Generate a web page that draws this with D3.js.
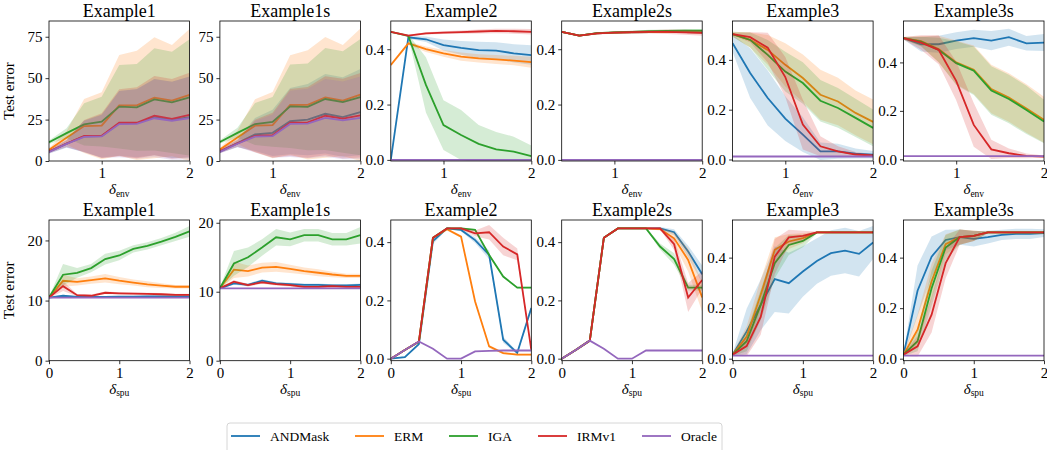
<!DOCTYPE html>
<html>
<head>
<meta charset="utf-8">
<script src="https://cdn.jsdelivr.net/npm/d3@7"></script>
<style>
body { margin: 0; background: #fff; }
svg text { font-family: 'Liberation Serif', serif !important; }
</style>
</head>
<body>
<div id="chart"></div>
<script>
var xEnv = [0.4, 0.6, 0.8, 1.0, 1.2, 1.4, 1.6, 1.8, 2.0];
var xSpu = [0, 0.2, 0.4, 0.6, 0.8, 1.0, 1.2, 1.4, 1.6, 1.8, 2.0];
var methods = ["ANDMask", "ERM", "IGA", "IRMv1", "Oracle"];
var colors = ["#1f77b4", "#ff7f0e", "#2ca02c", "#d62728", "#9467bd"];
var titles = ["Example1", "Example1s", "Example2", "Example2s", "Example3", "Example3s"];

// rows: ANDMask, ERM, IGA, IRMv1, Oracle
var env1Mean = [
  [5.6, 10.5, 14.9, 15.1, 22.7, 22.8, 26.5, 24.8, 26.5],
  [6.8, 14, 21.1, 21.3, 33.6, 33.6, 38.2, 36.4, 39.9],
  [11.3, 16.8, 22.1, 23.8, 32.8, 32.4, 37.2, 35.4, 38.4],
  [5.8, 10.5, 15.1, 15.3, 23.1, 23.1, 27.4, 25.4, 27.8],
  [5.4, 10.3, 14.6, 14.8, 22.3, 22.4, 25.8, 24.3, 25.9]];
var env1Sd = [
  [1, 2.5, 9.5, 13, 19.5, 20.5, 23, 23, 24.5],
  [1, 4, 16.3, 20.2, 30.4, 33, 36.5, 33.6, 39.8],
  [1, 3, 12.7, 15, 25.2, 26.2, 30.8, 30.6, 35.1],
  [1, 2, 9.7, 13.5, 20.2, 21.4, 23.9, 24.1, 25.5],
  [1, 2, 9.5, 13, 20, 21, 23.5, 23.5, 25]];
var env1sMean = [
  [5.8, 10.8, 16, 17, 24, 25, 28.5, 26.5, 29.5],
  [6.9, 14.2, 21.3, 21.6, 33.8, 33.9, 38.4, 36.5, 40],
  [11.5, 17, 22.3, 23.6, 33, 32.7, 37.4, 35.6, 38.6],
  [5.9, 10.6, 15.2, 15.6, 23.2, 23.3, 27.3, 25.6, 27.6],
  [5.5, 10.4, 14.7, 15, 22.4, 22.6, 26, 24.5, 26]];
var env1sSd = [
  [1, 2.5, 10, 14, 20, 21.5, 24, 24, 26],
  [1, 4, 16, 20, 30, 33, 36.5, 33.5, 40],
  [1, 3, 12.7, 15, 25.2, 26.2, 30.8, 30.6, 35.1],
  [1, 2, 9.7, 13.5, 20.2, 21.4, 23.9, 24.1, 25.5],
  [1, 2, 9.5, 13, 20, 21, 23.5, 23.5, 25]];
var env2Mean = [
  [0.0, 0.443, 0.436, 0.415, 0.405, 0.397, 0.395, 0.385, 0.379],
  [0.343, 0.421, 0.4, 0.385, 0.373, 0.367, 0.363, 0.359, 0.353],
  [0.463, 0.448, 0.271, 0.126, 0.09, 0.058, 0.038, 0.03, 0.014],
  [0.463, 0.449, 0.457, 0.46, 0.462, 0.464, 0.466, 0.465, 0.463],
  [0, 0, 0, 0, 0, 0, 0, 0, 0]];
var env2Sd = [
  [0, 0.005, 0.01, 0.02, 0.025, 0.03, 0.03, 0.033, 0.035],
  [0.005, 0.006, 0.01, 0.012, 0.015, 0.015, 0.016, 0.017, 0.02],
  [0.003, 0.005, 0.1, 0.09, 0.09, 0.068, 0.063, 0.054, 0.038],
  [0.003, 0.003, 0.004, 0.005, 0.006, 0.007, 0.008, 0.009, 0.01],
  [0, 0, 0, 0, 0, 0, 0, 0, 0]];
var env2sMean = [
  [0.463, 0.449, 0.457, 0.46, 0.461, 0.462, 0.462, 0.462, 0.461],
  [0.463, 0.449, 0.457, 0.46, 0.461, 0.462, 0.462, 0.462, 0.461],
  [0.463, 0.449, 0.458, 0.461, 0.463, 0.465, 0.466, 0.467, 0.467],
  [0.463, 0.449, 0.457, 0.46, 0.462, 0.463, 0.463, 0.461, 0.459],
  [0, 0, 0, 0, 0, 0, 0, 0, 0]];
var env2sSd = [
  [0.003, 0.003, 0.003, 0.003, 0.003, 0.003, 0.003, 0.003, 0.003],
  [0.003, 0.003, 0.003, 0.003, 0.003, 0.003, 0.003, 0.003, 0.003],
  [0.003, 0.003, 0.003, 0.004, 0.004, 0.005, 0.005, 0.006, 0.006],
  [0.003, 0.003, 0.004, 0.004, 0.005, 0.006, 0.008, 0.009, 0.01],
  [0, 0, 0, 0, 0, 0, 0, 0, 0]];
var env3Mean = [
  [0.467, 0.347, 0.247, 0.164, 0.1, 0.033, 0.033, 0.024, 0.019],
  [0.503, 0.48, 0.44, 0.38, 0.327, 0.26, 0.233, 0.187, 0.151],
  [0.503, 0.48, 0.42, 0.353, 0.307, 0.236, 0.207, 0.167, 0.127],
  [0.503, 0.491, 0.449, 0.331, 0.14, 0.053, 0.033, 0.02, 0.016],
  [0.012, 0.012, 0.012, 0.012, 0.012, 0.012, 0.012, 0.012, 0.012]];
var env3Sd = [
  [0.035, 0.1, 0.11, 0.09, 0.07, 0.035, 0.03, 0.02, 0.015],
  [0.01, 0.03, 0.06, 0.087, 0.095, 0.1, 0.095, 0.09, 0.09],
  [0.01, 0.03, 0.06, 0.08, 0.083, 0.083, 0.08, 0.077, 0.074],
  [0.005, 0.02, 0.06, 0.08, 0.1, 0.04, 0.02, 0.01, 0.005],
  [0, 0, 0, 0, 0, 0, 0, 0, 0]];
var env3sMean = [
  [0.5, 0.475, 0.475, 0.49, 0.5, 0.49, 0.504, 0.479, 0.482],
  [0.5, 0.488, 0.455, 0.4, 0.37, 0.29, 0.255, 0.21, 0.163],
  [0.5, 0.486, 0.452, 0.397, 0.366, 0.284, 0.249, 0.204, 0.156],
  [0.5, 0.482, 0.452, 0.324, 0.142, 0.041, 0.025, 0.014, 0.011],
  [0.013, 0.013, 0.013, 0.013, 0.013, 0.013, 0.013, 0.013, 0.013]];
var env3sSd = [
  [0.005, 0.03, 0.035, 0.035, 0.035, 0.04, 0.035, 0.03, 0.035],
  [0.005, 0.02, 0.055, 0.09, 0.1, 0.1, 0.1, 0.1, 0.095],
  [0.005, 0.02, 0.05, 0.09, 0.1, 0.1, 0.1, 0.1, 0.09],
  [0.005, 0.03, 0.06, 0.08, 0.09, 0.04, 0.02, 0.01, 0.005],
  [0, 0, 0, 0, 0, 0, 0, 0, 0]];

var spu1Mean = [
  [10.5, 10.8, 10.6, 10.6, 10.6, 10.65, 10.65, 10.7, 10.7, 10.7, 10.7],
  [10.5, 13.3, 13.1, 13.4, 13.7, 13.3, 13.0, 12.7, 12.5, 12.3, 12.3],
  [10.5, 14.3, 14.6, 15.4, 16.9, 17.5, 18.6, 19.1, 19.8, 20.6, 21.5],
  [10.5, 12.4, 10.9, 10.8, 11.3, 11.2, 11.15, 11.1, 11.05, 10.95, 10.95],
  [10.5, 10.5, 10.5, 10.5, 10.5, 10.5, 10.5, 10.5, 10.5, 10.5, 10.5]];
var spu1Sd = [
  [0.1, 0.15, 0.15, 0.15, 0.15, 0.15, 0.15, 0.15, 0.15, 0.15, 0.15],
  [0.1, 1, 0.6, 0.6, 0.7, 0.6, 0.5, 0.5, 0.4, 0.3, 0.3],
  [0.1, 1.8, 0.8, 0.7, 0.9, 0.8, 0.6, 0.6, 0.6, 0.7, 0.9],
  [0.1, 0.8, 0.2, 0.2, 0.2, 0.2, 0.2, 0.2, 0.2, 0.2, 0.2],
  [0, 0, 0, 0, 0, 0, 0, 0, 0, 0, 0]];
var spu1sMean = [
  [10.5, 11.2, 11.0, 11.6, 11.2, 11.1, 11.0, 11.0, 10.9, 10.9, 11.0],
  [10.5, 13.2, 13.0, 13.5, 13.6, 13.3, 13.0, 12.75, 12.5, 12.3, 12.3],
  [10.5, 14.1, 15.0, 16.4, 17.9, 17.6, 18.2, 18.2, 17.6, 17.6, 18.2],
  [10.5, 11.45, 10.97, 11.35, 11.1, 10.97, 10.7, 10.7, 10.8, 10.7, 10.7],
  [10.5, 10.5, 10.5, 10.5, 10.5, 10.5, 10.5, 10.5, 10.5, 10.5, 10.5]];
var spu1sSd = [
  [0.1, 0.2, 0.2, 0.2, 0.2, 0.2, 0.2, 0.2, 0.2, 0.2, 0.2],
  [0.1, 1.2, 0.8, 0.7, 0.7, 0.6, 0.5, 0.5, 0.4, 0.3, 0.3],
  [0.1, 1.8, 1.4, 1.2, 1.2, 1, 0.9, 0.9, 0.9, 0.9, 1.2],
  [0.1, 0.2, 0.2, 0.2, 0.2, 0.2, 0.2, 0.2, 0.2, 0.2, 0.2],
  [0, 0, 0, 0, 0, 0, 0, 0, 0, 0, 0]];
var spu2Mean = [
  [0, 0.005, 0.05, 0.404, 0.447, 0.442, 0.407, 0.356, 0.065, 0.02, 0.174],
  [0, 0.03, 0.058, 0.415, 0.444, 0.419, 0.196, 0.042, 0.019, 0.014, 0.014],
  [0, 0.03, 0.058, 0.415, 0.447, 0.447, 0.442, 0.356, 0.282, 0.244, 0.244],
  [0, 0.03, 0.059, 0.415, 0.447, 0.447, 0.43, 0.434, 0.385, 0.358, 0.03],
  [0, 0.03, 0.059, 0.034, 0, 0, 0.025, 0.027, 0.028, 0.028, 0.028]];
var spu2Sd = [
  [0, 0.003, 0.005, 0.01, 0.003, 0.005, 0.01, 0.015, 0.01, 0.005, 0.01],
  [0, 0.003, 0.003, 0.004, 0.004, 0.005, 0.005, 0.005, 0.004, 0.003, 0.003],
  [0, 0.003, 0.003, 0.003, 0.003, 0.003, 0.003, 0.003, 0.003, 0.003, 0.003],
  [0, 0.002, 0.003, 0.003, 0.003, 0.003, 0.01, 0.025, 0.03, 0.02, 0.005],
  [0, 0, 0, 0, 0, 0, 0, 0, 0, 0, 0]];
var spu2sMean = [
  [0, 0.03, 0.062, 0.415, 0.447, 0.447, 0.447, 0.447, 0.434, 0.368, 0.29],
  [0, 0.03, 0.062, 0.415, 0.447, 0.447, 0.447, 0.445, 0.413, 0.339, 0.21],
  [0, 0.03, 0.062, 0.415, 0.447, 0.447, 0.447, 0.385, 0.342, 0.244, 0.244],
  [0, 0.03, 0.062, 0.415, 0.447, 0.447, 0.447, 0.447, 0.393, 0.21, 0.27],
  [0, 0.03, 0.062, 0.034, 0, 0, 0.028, 0.028, 0.028, 0.028, 0.028]];
var spu2sSd = [
  [0, 0.002, 0.002, 0.002, 0.002, 0.002, 0.002, 0.005, 0.01, 0.02, 0.03],
  [0, 0.002, 0.002, 0.002, 0.002, 0.002, 0.002, 0.005, 0.02, 0.04, 0.05],
  [0, 0.002, 0.002, 0.002, 0.002, 0.002, 0.002, 0.01, 0.02, 0.01, 0.01],
  [0, 0.002, 0.002, 0.002, 0.002, 0.002, 0.002, 0.003, 0.02, 0.05, 0.03],
  [0, 0, 0, 0, 0, 0, 0, 0, 0, 0, 0]];
var spu3Mean = [
  [0.016, 0.108, 0.213, 0.315, 0.299, 0.345, 0.387, 0.418, 0.428, 0.415, 0.46],
  [0.016, 0.088, 0.253, 0.431, 0.464, 0.477, 0.5, 0.5, 0.5, 0.5, 0.5],
  [0.016, 0.069, 0.213, 0.378, 0.45, 0.466, 0.5, 0.5, 0.5, 0.5, 0.5],
  [0.016, 0.05, 0.165, 0.404, 0.48, 0.486, 0.5, 0.5, 0.5, 0.5, 0.5],
  [0.012, 0.012, 0.012, 0.012, 0.012, 0.012, 0.012, 0.012, 0.012, 0.012, 0.012]];
var spu3Sd = [
  [0.005, 0.09, 0.1, 0.13, 0.12, 0.1, 0.09, 0.09, 0.09, 0.09, 0.065],
  [0.005, 0.04, 0.06, 0.05, 0.03, 0.02, 0.003, 0.003, 0.003, 0.003, 0.003],
  [0.005, 0.04, 0.06, 0.06, 0.04, 0.025, 0.003, 0.003, 0.003, 0.003, 0.003],
  [0.005, 0.04, 0.07, 0.07, 0.03, 0.02, 0.003, 0.003, 0.003, 0.003, 0.003],
  [0, 0, 0, 0, 0, 0, 0, 0, 0, 0, 0]];
var spu3sMean = [
  [0.016, 0.269, 0.404, 0.47, 0.481, 0.474, 0.481, 0.49, 0.494, 0.494, 0.497],
  [0.016, 0.115, 0.306, 0.453, 0.481, 0.486, 0.5, 0.5, 0.5, 0.5, 0.5],
  [0.016, 0.069, 0.279, 0.44, 0.481, 0.486, 0.5, 0.5, 0.5, 0.5, 0.5],
  [0.016, 0.049, 0.174, 0.378, 0.481, 0.486, 0.5, 0.5, 0.5, 0.5, 0.5],
  [0.012, 0.012, 0.012, 0.012, 0.012, 0.012, 0.012, 0.012, 0.012, 0.012, 0.012]];
var spu3sSd = [
  [0.005, 0.1, 0.08, 0.04, 0.03, 0.03, 0.025, 0.02, 0.02, 0.02, 0.015],
  [0.005, 0.06, 0.07, 0.04, 0.03, 0.02, 0.003, 0.003, 0.003, 0.003, 0.003],
  [0.005, 0.04, 0.07, 0.05, 0.03, 0.02, 0.003, 0.003, 0.003, 0.003, 0.003],
  [0.005, 0.04, 0.07, 0.06, 0.03, 0.02, 0.003, 0.003, 0.003, 0.003, 0.003],
  [0, 0, 0, 0, 0, 0, 0, 0, 0, 0, 0]];

var envYDomain = [[0, 84.5], [0, 84.5], [-0.004, 0.502], [-0.004, 0.502], [-0.006, 0.556], [-0.007, 0.571]];
var spuYDomain = [[0, 23.4], [0, 20.4], [-0.007, 0.476], [-0.007, 0.476], [-0.008, 0.549], [-0.008, 0.549]];
var envYTicks = [[0, 25, 50, 75], [0, 25, 50, 75], [0, 0.2, 0.4], [0, 0.2, 0.4], [0, 0.2, 0.4], [0, 0.2, 0.4]];
var spuYTicks = [[0, 10, 20], [0, 10, 20], [0, 0.2, 0.4], [0, 0.2, 0.4], [0, 0.2, 0.4], [0, 0.2, 0.4]];

var envMeans = [env1Mean, env1sMean, env2Mean, env2sMean, env3Mean, env3sMean];
var envSds = [env1Sd, env1sSd, env2Sd, env2sSd, env3Sd, env3sSd];
var spuMeans = [spu1Mean, spu1sMean, spu2Mean, spu2sMean, spu3Mean, spu3sMean];
var spuSds = [spu1Sd, spu1sSd, spu2Sd, spu2sSd, spu3Sd, spu3sSd];

var w = 1047, h = 450;
var pw = 140.5;
var serif = "'Liberation Serif', serif";
var svg = d3.select("#chart").append("svg").attr("width", w).attr("height", h)
  .style("font-family", serif);

function panel(id, left, top, bottom, xs, xdom, xticks, ydom, yticks, means, sds, title, sub, showYLabel) {
  var xscale = d3.scaleLinear().domain(xdom).range([left, left + pw]);
  var yscale = d3.scaleLinear().domain(ydom).range([bottom, top]);
  var g = svg.append("g");

  g.append("clipPath").attr("id", id).append("rect")
    .attr("x", left).attr("y", top).attr("width", pw).attr("height", bottom - top);

  var plot = g.append("g").attr("clip-path", "url(#" + id + ")");

  var area = d3.area()
    .x(function (d) { return xscale(d.x); })
    .y0(function (d) { return yscale(d.m - d.s); })
    .y1(function (d) { return yscale(d.m + d.s); });
  var line = d3.line()
    .x(function (d) { return xscale(d.x); })
    .y(function (d) { return yscale(d.m); });

  methods.forEach(function (m, k) {
    var pts = xs.map(function (x, i) { return { x: x, m: means[k][i], s: sds[k][i] }; });
    plot.append("path").attr("d", area(pts))
      .attr("fill", colors[k]).attr("fill-opacity", 0.2).attr("stroke", "none");
    plot.append("path").attr("d", line(pts))
      .attr("fill", "none").attr("stroke", colors[k]).attr("stroke-width", 1.8);
  });

  var fmt = ydom[1] < 1 ? d3.format(".1f") : d3.format("d");
  var yaxis = d3.axisLeft(yscale).tickValues(yticks).tickFormat(fmt).tickSize(3.5).tickPadding(3);
  var xaxis = d3.axisBottom(xscale).tickValues(xticks).tickFormat(d3.format("d")).tickSize(3.5).tickPadding(3);

  var ya = g.append("g").attr("transform", "translate(" + left + ",0)").call(yaxis);
  var xa = g.append("g").attr("transform", "translate(0," + bottom + ")").call(xaxis);
  [ya, xa].forEach(function (a) {
    a.attr("font-family", null).attr("font-size", null);
    a.select(".domain").remove();
    a.selectAll(".tick line").attr("stroke", "#000").attr("stroke-width", 0.8);
    a.selectAll(".tick text").style("font-size", "15px").style("font-family", serif).attr("fill", "#000");
  });

  g.append("rect").attr("x", left).attr("y", top).attr("width", pw).attr("height", bottom - top)
    .attr("fill", "none").attr("stroke", "#000").attr("stroke-width", 0.8);

  g.append("text").attr("x", left + pw / 2).attr("y", top - 4)
    .attr("text-anchor", "middle").style("font-size", "18px").text(title);

  var lab = g.append("text").attr("x", left + pw / 2).attr("y", bottom + 33)
    .attr("text-anchor", "middle").style("font-size", "15px");
  lab.append("tspan").attr("font-style", "italic").text("δ");
  lab.append("tspan").style("font-size", "9.5px").attr("dy", 2.5).text(sub);

  if (showYLabel) {
    g.append("text")
      .attr("transform", "translate(14," + ((top + bottom) / 2) + ") rotate(-90)")
      .attr("text-anchor", "middle").style("font-size", "15px").text("Test error");
  }
}

titles.forEach(function (t, i) {
  var left = 49 + i * 170.9;
  panel("ce" + i, left, 21, 161, xEnv, [0.4, 2], [1, 2], envYDomain[i], envYTicks[i],
    envMeans[i], envSds[i], t, "env", i === 0);
  panel("cs" + i, left, 220, 360.7, xSpu, [0, 2], [0, 1, 2], spuYDomain[i], spuYTicks[i],
    spuMeans[i], spuSds[i], t, "spu", i === 0);
});

// legend
var legendX = [231, 355, 449, 538, 642];
var leg = svg.append("g");
leg.append("rect").attr("x", 227).attr("y", 423).attr("width", 495).attr("height", 34)
  .attr("rx", 3).attr("fill", "#fff").attr("stroke", "#cccccc").attr("stroke-width", 0.8);
methods.forEach(function (m, k) {
  leg.append("line").attr("x1", legendX[k]).attr("x2", legendX[k] + 29)
    .attr("y1", 436).attr("y2", 436).attr("stroke", colors[k]).attr("stroke-width", 1.8);
  leg.append("text").attr("x", legendX[k] + 39).attr("y", 441)
    .style("font-size", "13.5px").text(m);
});
</script>
</body>
</html>
